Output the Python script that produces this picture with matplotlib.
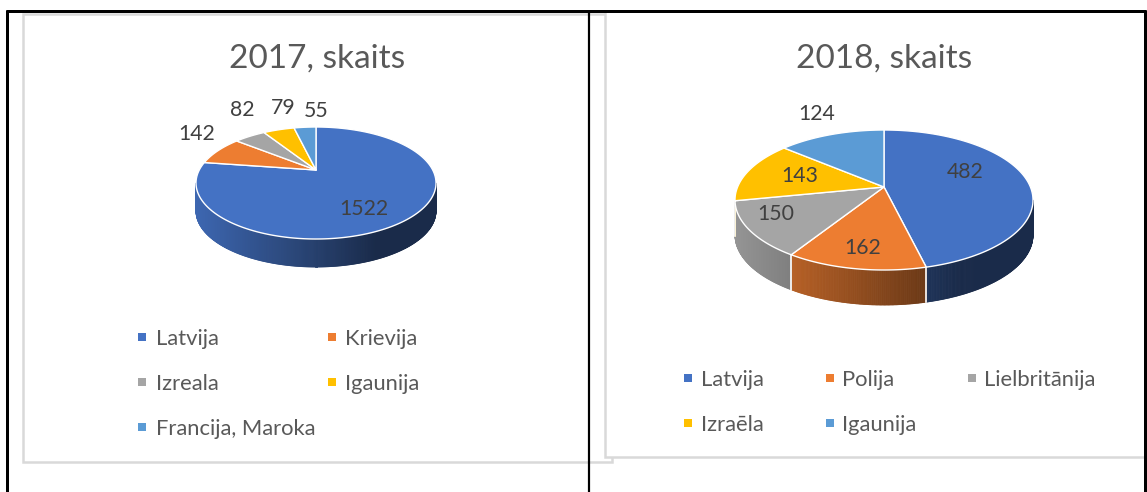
import numpy as np
import matplotlib
matplotlib.use("Agg")
import matplotlib.pyplot as plt
from matplotlib.patches import Polygon, Rectangle
from matplotlib.collections import PolyCollection
from matplotlib.colors import to_rgb

plt.rcParams['font.family'] = ['Lato', 'DejaVu Sans']

# ---- data ----
title_2017 = "2017, skaits"
cats_2017 = ["Latvija", "Krievija", "Izreala", "Igaunija", "Francija, Maroka"]
vals_2017 = [1522, 142, 82, 79, 55]

title_2018 = "2018, skaits"
cats_2018 = ["Latvija", "Polija", "Lielbritānija", "Izraēla", "Igaunija"]
vals_2018 = [482, 162, 150, 143, 124]

colors = ["#4472C4", "#ED7D31", "#A5A5A5", "#FFC000", "#5B9BD5"]

# ---- styling / layout ----
W, H = 1147, 492
TEXT = "#595959"
LABEL = "#404040"
FRAME = "#D9D9D9"

fig = plt.figure(figsize=(W / 100, H / 100), dpi=100)
ax = fig.add_axes([0, 0, 1, 1])
ax.set_xlim(0, W)
ax.set_ylim(H, 0)
ax.axis("off")


def px2pt(p):
    return p * 72 / 100


def shade(c, f):
    r, g, b = to_rgb(c)
    return (r * f, g * f, b * f)


def pie3d(values, cols, cx, cy, rx, ry, depth, voff, lab_fx, lab_fy, fs):
    vals = np.asarray(values, float)
    frac = vals / vals.sum()
    edges = np.concatenate([[0], np.cumsum(frac)]) * 2 * np.pi
    vx, vy = cx, cy - voff

    def rim(t):
        return cx + rx * np.sin(t), cy - ry * np.cos(t)

    # sides (front half only: angles pi/2 .. 3pi/2)
    for i in range(len(vals)):
        lo = max(edges[i], np.pi / 2)
        hi = min(edges[i + 1], 3 * np.pi / 2)
        if lo >= hi:
            continue
        n = max(int((hi - lo) / np.radians(0.5)), 2)
        ts = np.linspace(lo, hi, n)
        xs, ys = rim(ts)
        polys, fcs = [], []
        for k in range(n - 1):
            polys.append([(xs[k], ys[k]), (xs[k + 1], ys[k + 1]),
                          (xs[k + 1], ys[k + 1] + depth), (xs[k], ys[k] + depth)])
            u = ((xs[k] + xs[k + 1]) / 2 - (cx - rx)) / (2 * rx)
            f = max(0.38, 0.9 - 0.7 * u)
            fcs.append(shade(cols[i], f))
        pc = PolyCollection(polys, facecolors=fcs, edgecolors=fcs, linewidths=0.6, zorder=2)
        ax.add_collection(pc)
    # side boundaries
    for e in edges[1:-1]:
        if np.pi / 2 < e < 3 * np.pi / 2:
            x, y = rim(e)
            ax.plot([x, x], [y, y + depth], color="white", lw=1.2, zorder=3)

    # top face wedges
    for i in range(len(vals)):
        n = max(int((edges[i + 1] - edges[i]) / np.radians(0.5)), 2)
        ts = np.linspace(edges[i], edges[i + 1], n)
        xs, ys = rim(ts)
        pts = [(vx, vy)] + list(zip(xs, ys))
        ax.add_patch(Polygon(pts, closed=True, facecolor=cols[i], edgecolor="white",
                             lw=1.0, joinstyle="round", zorder=4))

    # labels
    cap = 0.72 * fs * 100 / 72
    for i in range(len(vals)):
        m = (edges[i] + edges[i + 1]) / 2
        lx = vx + lab_fx[i] * rx * np.sin(m)
        ly = vy - lab_fy[i] * ry * np.cos(m)
        ax.text(lx, ly + cap / 2, f"{int(vals[i])}", ha="center", va="baseline",
                fontsize=fs, color=LABEL, zorder=6)


def legend(cats, cols, xs_marker, xs_text, ys, ncol, fs, msize=8):
    cap = 0.72 * fs * 100 / 72
    for i, c in enumerate(cats):
        r, k = divmod(i, ncol)
        mx, ty = xs_marker[k], ys[r]
        ax.add_patch(Rectangle((mx - msize / 2, ty - msize / 2), msize, msize,
                               facecolor=cols[i], edgecolor="none", zorder=5))
        ax.text(xs_text[k], ty + cap / 2, c, ha="left", va="baseline",
                fontsize=fs, color=TEXT, zorder=5)


# chart frames
ax.add_patch(Rectangle((22.5, 13.5), 589, 448, facecolor="white", edgecolor=FRAME,
                       lw=px2pt(2.5), zorder=1))
ax.add_patch(Rectangle((604.5, 11), 560, 446, facecolor="white", edgecolor=FRAME,
                       lw=px2pt(2.5), zorder=1.5))

# titles
tfs = 24
tcap = 0.72 * tfs * 100 / 72
ax.text(317, 56 + tcap / 2, title_2017, ha="center", va="baseline", fontsize=tfs, color=TEXT, zorder=5)
ax.text(884, 56 + tcap / 2, title_2018, ha="center", va="baseline", fontsize=tfs, color=TEXT, zorder=5)

# pies
pie3d(vals_2017, colors, 316, 183, 120, 56, 28, 13,
      lab_fx=[0.71, 1.21, 1.12, 0.88, 0.0], lab_fy=[0.80, 1.18, 1.31, 1.20, 1.08], fs=15.3)
pie3d(vals_2018, colors, 884, 200, 149, 70, 35, 13,
      lab_fx=[0.55, 0.74, 0.81, 0.62, 1.26], lab_fy=[1.70, 0.87, 0.82, 0.46, 1.15], fs=15.3)

# legends
legend(cats_2017, colors, [142, 332], [156, 345], [337, 382, 427], 2, fs=15.8)
legend(cats_2018, colors, [688, 830, 972], [701, 842, 984], [378, 423], 3, fs=15.8)

# table borders (black)
bk = "black"
ax.plot([6, 1146], [11, 11], color=bk, lw=px2pt(3), solid_capstyle="butt", zorder=10)
ax.plot([7, 7], [10, H], color=bk, lw=px2pt(3), solid_capstyle="butt", zorder=10)
ax.plot([589, 589], [10, H], color=bk, lw=px2pt(2.2), solid_capstyle="butt", zorder=10)
ax.plot([1144.5, 1144.5], [10, H], color=bk, lw=px2pt(3), solid_capstyle="butt", zorder=10)

fig.savefig("out.png", dpi=100, facecolor="white")
